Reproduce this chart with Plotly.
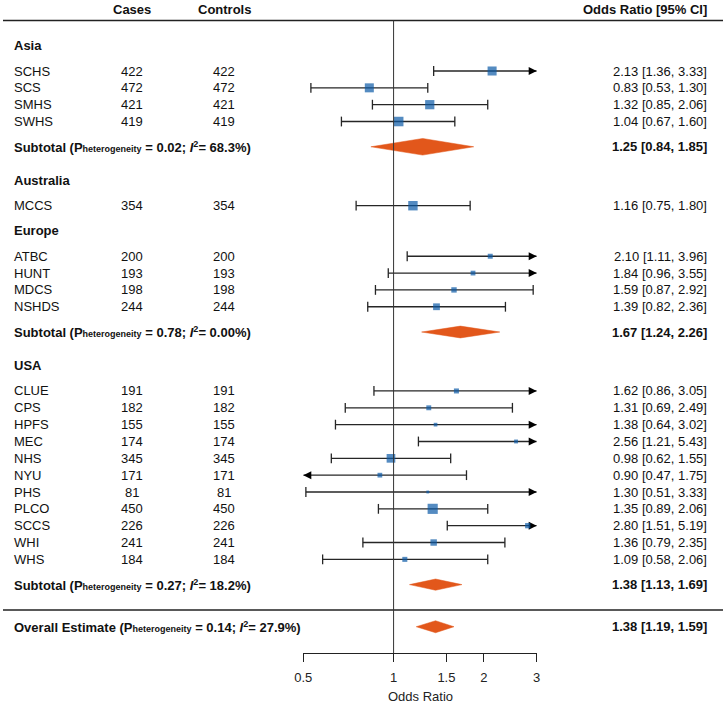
import math
import plotly.graph_objects as go

# ---------------- data ----------------
groups = ["Asia", "Australia", "Europe", "USA"]
study_group = ["Asia", "Asia", "Asia", "Asia",
               "Australia",
               "Europe", "Europe", "Europe", "Europe",
               "USA", "USA", "USA", "USA", "USA", "USA", "USA", "USA", "USA", "USA", "USA"]
studies = ["SCHS", "SCS", "SMHS", "SWHS",
           "MCCS",
           "ATBC", "HUNT", "MDCS", "NSHDS",
           "CLUE", "CPS", "HPFS", "MEC", "NHS", "NYU", "PHS", "PLCO", "SCCS", "WHI", "WHS"]
cases = [422, 472, 421, 419, 354, 200, 193, 198, 244,
         191, 182, 155, 174, 345, 171, 81, 450, 226, 241, 184]
controls = [422, 472, 421, 419, 354, 200, 193, 198, 244,
            191, 182, 155, 174, 345, 171, 81, 450, 226, 241, 184]
or_est = [2.13, 0.83, 1.32, 1.04, 1.16, 2.10, 1.84, 1.59, 1.39,
          1.62, 1.31, 1.38, 2.56, 0.98, 0.90, 1.30, 1.35, 2.80, 1.36, 1.09]
or_lo = [1.36, 0.53, 0.85, 0.67, 0.75, 1.11, 0.96, 0.87, 0.82,
         0.86, 0.69, 0.64, 1.21, 0.62, 0.47, 0.51, 0.89, 1.51, 0.79, 0.58]
or_hi = [3.33, 1.30, 2.06, 1.60, 1.80, 3.96, 3.55, 2.92, 2.36,
         3.05, 2.49, 3.02, 5.43, 1.55, 1.75, 3.33, 2.06, 5.19, 2.35, 2.06]

sub_groups = ["Asia", "Europe", "USA"]
sub_est = [1.25, 1.67, 1.38]
sub_lo = [0.84, 1.24, 1.13]
sub_hi = [1.85, 2.26, 1.69]
sub_p = ["0.02", "0.78", "0.27"]
sub_i2 = ["68.3", "0.00", "18.2"]

overall_est = 1.38
overall_lo = 1.19
overall_hi = 1.59
overall_p = "0.14"
overall_i2 = "27.9"

tick_vals = [0.5, 1, 1.5, 2, 3]
tick_text = ["0.5", "1", "1.5", "2", "3"]
x_min, x_max = 0.5, 3.0

# ---------------- style ----------------
W, H = 723, 703
FONT = "Liberation Sans, Arial, Helvetica, sans-serif"
FS = 13
BLUE = "#0B5AA6"
ORANGE = "#E2571B"
LINE = "#262626"
ROW_PX = 16.84
ROW0_PX = 71.0
AXIS_PX = 653.0
X0_PX, X1_PX = 303.3, 536.7
diamond_half_px = {"Asia": 8.3, "Europe": 5.9, "USA": 5.6, "Overall": 6.0}

# ---------------- layout of rows ----------------
study_row = {}
heading_row = {}
sub_row = {}
r = -1.5
for g in groups:
    heading_row[g] = r
    r += 1.5
    idx = [i for i, sg in enumerate(study_group) if sg == g]
    for k, i in enumerate(idx):
        study_row[i] = r + k
    last = r + len(idx) - 1
    if g in sub_groups:
        sub_row[g] = last + 1.5
        r = sub_row[g] + 2
    else:
        r = last + 1.5
sep_row = sub_row["USA"] + 1.5
overall_row = sep_row + 1
header_row = -3.66
header_line_row = -3.0

y_top = -ROW0_PX / ROW_PX
y_bot = (AXIS_PX - ROW0_PX) / ROW_PX


def px(x):
    return x / W


fig = go.Figure()

lx, ly = [], []
cap_x, cap_y = [], []
ar_x, ar_y = [], []
al_x, al_y = [], []
for i in range(len(studies)):
    y = study_row[i]
    lo = max(or_lo[i], x_min)
    hi = min(or_hi[i], x_max)
    lx += [lo, hi, None]
    ly += [y, y, None]
    if or_lo[i] < x_min:
        al_x.append(x_min); al_y.append(y)
    else:
        cap_x.append(or_lo[i]); cap_y.append(y)
    if or_hi[i] > x_max:
        ar_x.append(x_max); ar_y.append(y)
    else:
        cap_x.append(or_hi[i]); cap_y.append(y)

fig.add_trace(go.Scatter(x=lx, y=ly, mode="lines",
                         line=dict(color=LINE, width=1.3), hoverinfo="skip", cliponaxis=False))
fig.add_trace(go.Scatter(x=cap_x, y=cap_y, mode="markers",
                         marker=dict(symbol="line-ns", size=7, line=dict(color=LINE, width=1.3)),
                         hoverinfo="skip", cliponaxis=False))
fig.add_trace(go.Scatter(x=ar_x, y=ar_y, mode="markers",
                         marker=dict(symbol="arrow-right", size=8, color="black", line=dict(width=0)),
                         hoverinfo="skip", cliponaxis=False))
fig.add_trace(go.Scatter(x=al_x, y=al_y, mode="markers",
                         marker=dict(symbol="arrow-left", size=8, color="black", line=dict(width=0)),
                         hoverinfo="skip", cliponaxis=False))

# squares sized by inverse-variance weight
sizes = []
for i in range(len(studies)):
    se = (math.log(or_hi[i]) - math.log(or_lo[i])) / 3.92
    w = 1.0 / se ** 2
    sizes.append(0.42 * w + 1.0)
fig.add_trace(go.Scatter(x=or_est, y=[study_row[i] for i in range(len(studies))], mode="markers",
                         marker=dict(symbol="square", size=sizes, color=BLUE, line=dict(width=0)),
                         hoverinfo="skip", cliponaxis=False))


def diamond(est, lo, hi, y, half_px):
    h = half_px / ROW_PX
    fig.add_trace(go.Scatter(x=[lo, est, hi, est, lo], y=[y, y - h, y, y + h, y],
                             mode="lines", fill="toself", fillcolor=ORANGE,
                             line=dict(color=ORANGE, width=0.5), hoverinfo="skip"))


for k, g in enumerate(sub_groups):
    diamond(sub_est[k], sub_lo[k], sub_hi[k], sub_row[g], diamond_half_px[g])
diamond(overall_est, overall_lo, overall_hi, overall_row, diamond_half_px["Overall"])

shapes = [
    dict(type="line", xref="paper", yref="y", x0=px(3), x1=1, y0=header_line_row, y1=header_line_row,
         line=dict(color="#222", width=1.5)),
    dict(type="line", xref="paper", yref="y", x0=px(3), x1=1, y0=sep_row, y1=sep_row,
         line=dict(color="#222", width=1.5)),
    dict(type="line", xref="x", yref="y", x0=1, x1=1, y0=header_line_row, y1=y_bot,
         line=dict(color="#333", width=1)),
]

ann = []


def text(x, y, s, anchor="left", bold=False):
    if bold:
        s = "<b>" + s + "</b>"
    ann.append(dict(x=px(x), y=y, xref="paper", yref="y", text=s, showarrow=False,
                    xanchor=anchor, yanchor="middle",
                    font=dict(family=FONT, size=FS, color="#111")))


COL_NAME, COL_CASES, COL_CTRL, COL_OR = 12, 132, 224, 709

text(COL_CASES, header_row, "Cases", "center", True)
text(COL_CTRL, header_row, "Controls", "center", True)
text(COL_OR, header_row, "Odds Ratio [95% CI]", "right", True)

for g in groups:
    text(COL_NAME, heading_row[g], g, "left", True)

for i in range(len(studies)):
    y = study_row[i]
    text(COL_NAME, y, studies[i])
    text(COL_CASES, y, str(cases[i]), "center")
    text(COL_CTRL, y, str(controls[i]), "center")
    text(COL_OR, y, f"{or_est[i]:.2f} [{or_lo[i]:.2f}, {or_hi[i]:.2f}]", "right")


def het_label(prefix, p, i2):
    return (f"{prefix} (P<span style='font-size:9px'>heterogeneity</span> = {p}; "
            f"<i>I</i><sup>2</sup>= {i2}%)")


for k, g in enumerate(sub_groups):
    y = sub_row[g]
    text(COL_NAME, y, het_label("Subtotal", sub_p[k], sub_i2[k]), "left", True)
    text(COL_OR, y, f"{sub_est[k]:.2f} [{sub_lo[k]:.2f}, {sub_hi[k]:.2f}]", "right", True)

text(COL_NAME, overall_row, het_label("Overall Estimate", overall_p, overall_i2), "left", True)
text(COL_OR, overall_row, f"{overall_est:.2f} [{overall_lo:.2f}, {overall_hi:.2f}]", "right", True)

# axis title
ann.append(dict(x=px(420), y=(AXIS_PX - 697) / AXIS_PX, xref="paper", yref="paper",
                text="Odds Ratio", showarrow=False, xanchor="center", yanchor="middle",
                font=dict(family=FONT, size=FS, color="#222")))

fig.update_layout(
    width=W, height=H, autosize=False,
    margin=dict(l=0, r=0, t=0, b=H - AXIS_PX, pad=0, autoexpand=False),
    paper_bgcolor="white", plot_bgcolor="white",
    showlegend=False,
    shapes=shapes,
    annotations=ann,
    xaxis=dict(type="log", domain=[px(X0_PX), px(X1_PX)],
               range=[math.log10(x_min), math.log10(x_max)],
               showgrid=False, zeroline=False, showline=True, linecolor="#222", linewidth=1.3,
               ticks="outside", ticklen=8, tickwidth=1.3, tickcolor="#222",
               ticklabelstandoff=4,
               tickvals=tick_vals, ticktext=tick_text,
               tickfont=dict(family=FONT, size=FS, color="#222"), fixedrange=True),
    yaxis=dict(range=[y_bot, y_top], visible=False, showgrid=False, zeroline=False, fixedrange=True),
)

fig.write_html("out.html", config={"responsive": False, "displayModeBar": False},
               post_script="document.body.style.margin='0';document.body.style.overflow='hidden';")
